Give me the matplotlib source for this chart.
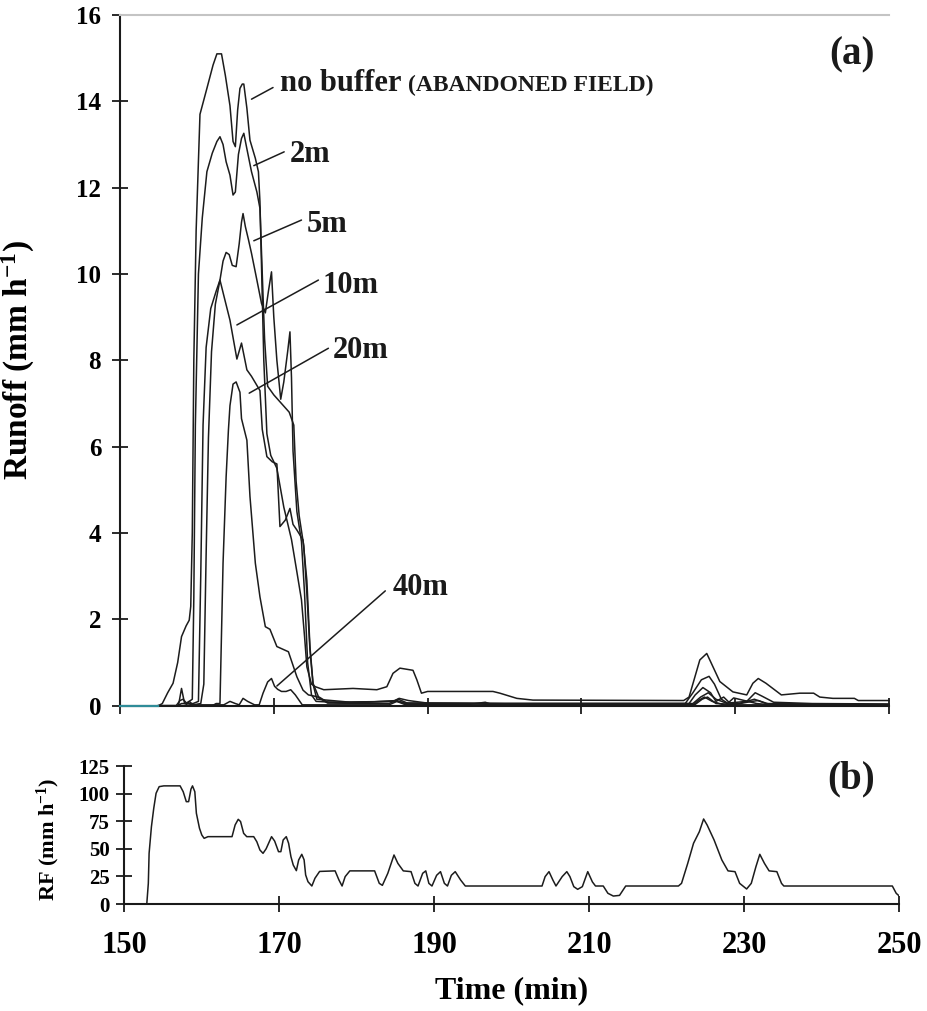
import matplotlib
matplotlib.use("Agg")
import matplotlib.pyplot as plt

plt.rcParams['font.family'] = ['Liberation Serif', 'DejaVu Serif']
plt.rcParams['font.weight'] = 'bold'
plt.rcParams['mathtext.fontset'] = 'custom'
plt.rcParams['mathtext.rm'] = 'Liberation Serif:bold'
plt.rcParams['mathtext.bf'] = 'Liberation Serif:bold'
plt.rcParams['mathtext.it'] = 'Liberation Serif:bold:italic'

# ---------------- data (a) runoff, mm/h ----------------
lead_t = [150, 155]
lead_r = [0, 0]

nb_t = [155, 155.5, 156.2, 156.9, 157.5, 158.0, 158.6, 159.0, 159.2, 159.4, 159.6, 159.9, 160.4, 161.3,
        162.1, 162.6, 163.2, 163.7, 164.3, 164.7, 165.0, 165.3, 165.6, 165.9, 166.1, 166.5, 166.9, 167.6,
        168.0, 168.2, 168.4, 168.7, 169.1, 169.6, 170.4, 171.3, 172.3, 173.0, 173.6, 174.0, 174.3, 174.9,
        175.4, 176.5, 180.3, 183.4, 184.7, 185.5, 186.4, 188.1, 188.6, 189.2, 190.0, 198.5, 199.4, 201.6,
        203.7, 223.3, 224.0, 225.4, 226.3, 226.8, 228.0, 229.7, 231.5, 232.3, 233.0, 234.0, 236.0, 238.4,
        240.2, 241.0, 242.7, 245.5, 246.0, 250]
nb_r = [0, 0.05, 0.3, 0.52, 1.0, 1.6, 1.85, 1.98, 2.3, 4.0, 8.0, 11.0, 13.7, 14.3,
        14.84, 15.1, 15.1, 14.6, 13.9, 13.07, 12.95, 13.8, 14.3, 14.4, 14.4, 13.84, 13.1, 12.68,
        12.37, 11.67, 10.2, 8.0, 6.3, 5.8, 5.5, 4.6, 3.85, 3.1, 2.45, 1.6, 0.9, 0.5,
        0.44, 0.37, 0.40, 0.37, 0.44, 0.75, 0.87, 0.82, 0.6, 0.29, 0.33, 0.33, 0.29, 0.17,
        0.13, 0.12, 0.2, 1.06, 1.21, 1.02, 0.56, 0.32, 0.25, 0.52, 0.63, 0.52, 0.25, 0.29,
        0.29, 0.2, 0.17, 0.17, 0.12, 0.12]

m2_t = [155, 157.5, 158.0, 158.5, 159.0, 159.4, 159.6, 159.8, 160.2, 160.7, 161.3, 162.0, 162.6, 163.0,
        163.4, 163.8, 164.3, 164.7, 165.0, 165.4, 165.8, 166.1, 166.5, 167.1, 167.8, 168.2, 168.5, 168.8,
        169.2, 170.0, 171.0, 172.0, 172.6, 172.9, 173.3, 173.9, 174.3, 174.7, 175.1, 175.6, 180, 185.5,
        186.3, 187.5, 190, 200, 223.5, 224.5, 225.6, 226.6, 227.3, 228.2, 229.0, 231.5, 232.6, 233.5,
        235.0, 240, 250]
m2_r = [0, 0, 0.05, 0.05, 0.1, 0.15, 2.5, 6.5, 10.0, 11.3, 12.37, 12.8, 13.07, 13.18,
        13.0, 12.6, 12.29, 11.83, 11.9, 12.77, 13.14, 13.26, 12.9, 12.37, 11.9, 11.52, 10.0, 8.5,
        7.4, 7.2, 7.0, 6.8, 6.5, 5.2, 4.4, 3.7, 2.6, 1.3, 0.5, 0.15, 0.08, 0.1,
        0.17, 0.12, 0.06, 0.05, 0.05, 0.3, 0.6, 0.68, 0.5, 0.15, 0.06, 0.1, 0.3, 0.22,
        0.08, 0.05, 0.04]

m5_t = [155, 157.6, 158.0, 158.4, 159.5, 160.2, 160.5, 160.8, 161.2, 161.8, 162.5, 163.0, 163.4, 163.8,
        164.2, 164.6, 165.1, 165.5, 165.8, 166.0, 166.3, 166.7, 167.1, 167.8, 168.4, 168.9, 169.3, 169.7,
        170.0, 170.4, 170.9, 171.3, 171.8, 172.1, 172.3, 172.5, 173.0, 173.6, 174.0, 174.4, 174.9, 175.5,
        180, 186, 187, 200, 224.0, 224.8, 225.8, 226.8, 227.5, 228.5, 229.3, 230.5, 232.5, 234, 240, 250]
m5_r = [0, 0, 0.4, 0.05, 0.05, 0.1, 3.0, 6.5, 8.3, 9.2, 9.6, 9.86, 10.3, 10.5,
        10.45, 10.2, 10.17, 10.7, 11.2, 11.4, 11.1, 10.8, 10.48, 9.86, 9.32, 9.1, 9.6, 10.05,
        9.0, 8.0, 7.1, 7.5, 8.2, 8.66, 7.6, 5.9, 4.5, 3.8, 2.6, 1.0, 0.25, 0.1,
        0.06, 0.12, 0.06, 0.05, 0.05, 0.25, 0.42, 0.3, 0.1, 0.2, 0.06, 0.05, 0.15, 0.05, 0.04, 0.03]

m10_t = [155, 158.5, 159.0, 159.5, 160.5, 160.9, 161.2, 161.5, 161.9, 162.4, 163.0, 163.5, 164.3, 165.2,
         165.8, 166.5, 167.1, 167.7, 168.2, 168.5, 169.1, 169.8, 170.4, 170.8, 171.5, 172.1, 172.5, 173.0,
         173.8, 174.3, 174.7, 175.1, 175.8, 177, 186, 187, 200, 224.5, 225.5, 226.5, 227.5, 229.0, 229.8,
         232.8, 234, 250]
m10_r = [0, 0, 0.1, 0.02, 0.05, 0.5, 3.5, 6.2, 8.2, 9.3, 9.86, 9.5, 8.93, 8.03,
         8.4, 7.78, 7.63, 7.45, 7.3, 6.4, 5.77, 5.65, 5.6, 4.15, 4.3, 4.57, 4.2, 4.07,
         3.84, 2.9, 1.37, 0.52, 0.21, 0.08, 0.1, 0.06, 0.05, 0.05, 0.2, 0.3, 0.15, 0.05, 0.18,
         0.05, 0.03, 0.02]

m20_t = [155, 162.0, 162.5, 163.0, 163.4, 163.8, 164.1, 164.3, 164.7, 165.1, 165.6, 165.8, 166.5, 166.9,
         167.6, 168.2, 168.9, 169.5, 170.4, 171.9, 173.0, 173.8, 174.5, 175.6, 177, 185, 186.2, 187.5,
         200, 224.8, 225.7, 226.4, 227.5, 230, 232.2, 233, 234.5, 250]
m20_r = [0, 0, 0.05, 0.05, 3.3, 5.3, 6.39, 6.95, 7.45, 7.5, 7.26, 6.65, 6.15, 4.85,
         3.3, 2.52, 1.83, 1.77, 1.37, 1.25, 0.67, 0.36, 0.25, 0.21, 0.06, 0.05, 0.15, 0.05,
         0.03, 0.03, 0.15, 0.2, 0.05, 0.03, 0.1, 0.12, 0.03, 0.02]

m40_t = [155, 157.3, 157.8, 158.2, 158.7, 159.5, 162, 163.5, 164.3, 165.0, 165.5, 166.0, 166.6, 167.5,
         168.1, 168.6, 169.2, 169.7, 170.1, 170.5, 171.0, 171.6, 172.2, 172.8, 173.7, 175, 180, 185,
         186, 187, 195, 197.5, 198.5, 210, 224.5, 225.2, 226, 227, 228.5, 233, 250]
m40_r = [0, 0, 0.12, 0.15, 0.05, 0.02, 0.02, 0.02, 0.1, 0.05, 0.02, 0.17, 0.1, 0.02,
         0.02, 0.29, 0.55, 0.63, 0.45, 0.38, 0.33, 0.33, 0.37, 0.25, 0.02, 0.02, 0.02, 0.02,
         0.1, 0.03, 0.02, 0.08, 0.02, 0.01, 0.01, 0.12, 0.2, 0.1, 0.02, 0.02, 0.01]

# ---------------- data (b) rainfall, mm/h ----------------
rf_t = [152.9, 153.1, 153.2, 153.5, 153.8, 154.1, 154.5, 155.1, 157.2, 157.6, 158.0, 158.3, 158.6, 158.8,
        159.1, 159.3, 159.7, 160.0, 160.3, 160.8, 163.9, 164.3, 164.7, 165.0, 165.4, 165.8, 166.7, 167.1,
        167.5, 167.9, 168.3, 169.0, 169.4, 169.9, 170.2, 170.5, 170.9, 171.2, 171.5, 171.8, 172.2, 172.5,
        172.9, 173.2, 173.4, 173.7, 174.2, 174.6, 175.2, 177.2, 177.7, 178.1, 178.5, 179.1, 182.3, 182.9,
        183.3, 184.0, 184.8, 185.3, 186.0, 187.0, 187.5, 187.9, 188.5, 188.9, 189.3, 189.7, 190.3, 190.8,
        191.3, 191.7, 192.2, 192.7, 193.4, 194.0, 203.9, 204.3, 204.8, 205.3, 205.7, 206.5, 207.1, 207.5,
        208.0, 208.5, 209.1, 209.8, 210.4, 210.8, 211.8, 212.4, 213.1, 213.9, 214.7, 221.5, 221.9, 222.7,
        223.45, 224.2, 224.75, 225.2, 226.1, 227.1, 227.9, 228.8, 229.4, 230.3, 230.9, 231.5, 232.0, 232.6,
        233.2, 234.2, 234.8, 235.1, 249.1, 249.6, 250.0]
rf_v = [0, 18.7, 45.9, 70, 86.7, 100.3, 106.3, 107, 107, 101.7, 92.7, 92.7, 104, 107,
        101.7, 82.2, 68.6, 62.5, 59.5, 61, 61, 71.6, 76.7, 74.7, 64, 61, 61, 56.4,
        48.9, 45.9, 50, 61, 57, 47.4, 47.4, 58, 61, 55, 42.9, 35.3, 30.2, 39.9,
        45, 40, 26.3, 20.2, 16.3, 23.3, 29.5, 30, 21.7, 16.3, 24.8, 30, 30, 18.7,
        16.9, 27.8, 44.4, 36.8, 30, 29.3, 18.7, 16.3, 27.8, 30, 18.7, 16.3, 26, 29.3,
        18.7, 16.3, 26, 29.3, 21.7, 16.3, 16.3, 24.8, 29.3, 21.7, 16.3, 24.8, 29.3, 24.8,
        15.7, 13.3, 15.7, 29.3, 20.0, 16.3, 16.3, 9.7, 7.2, 7.8, 16.3, 16.3, 18.7, 36.8,
        55, 65.5, 77, 71.6, 58, 39.9, 30, 29.3, 18.7, 13.6, 18.7, 33.8, 45, 36.8,
        30, 29.3, 18.7, 16.3, 16.3, 9.7, 7.2]

runoff_series = [(nb_t, nb_r), (m2_t, m2_r), (m5_t, m5_r), (m10_t, m10_r), (m20_t, m20_r), (m40_t, m40_r)]

# labels: (text, text x, text baseline y, leader start, leader end)
curve_labels = [
    ("no buffer", 170.87, 14.25, (167.1, 14.05), (169.9, 14.32)),
    ("2m", 172.1, 12.6, (167.4, 12.51), (171.35, 12.83)),
    ("5m", 174.3, 10.98, (167.4, 10.77), (173.6, 11.25)),
    ("10m", 176.35, 9.57, (165.2, 8.82), (175.8, 9.86)),
    ("20m", 177.65, 8.05, (166.8, 7.24), (177.1, 8.28)),
    ("40m", 185.45, 2.56, (170.4, 0.456), (184.5, 2.66)),
]

W, H = 927, 1011
fig = plt.figure(figsize=(W / 100, H / 100), dpi=100)

def box(l, r, t, b):
    return [l / W, 1 - b / H, (r - l) / W, (b - t) / H]

ax = fig.add_axes(box(120, 889, 15, 705.7))
ax2 = fig.add_axes(box(124.3, 899.3, 766, 904))

line_c = '#1c1c1c'
for tt, rr in runoff_series:
    ax.plot(tt, rr, color=line_c, lw=1.1, clip_on=False)
ax.plot(lead_t, lead_r, color='#2f8c98', lw=1.6, zorder=4, clip_on=False)

ax.set_xlim(150, 250)
ax.set_ylim(0, 16)
ax.set_yticks(range(0, 17, 2))
ax.set_xticks(range(150, 251, 20))
ax.tick_params(axis='x', labelbottom=False)
for a in (ax, ax2):
    a.tick_params(direction='inout', length=11, width=1.3, color='#1a1a1a')
    for s in ('left', 'bottom'):
        a.spines[s].set_linewidth(1.5)
        a.spines[s].set_color('#1a1a1a')
    a.spines['right'].set_visible(False)
ax.spines['top'].set_color('#c4c4c4')
ax.spines['top'].set_linewidth(1.5)
ax2.spines['top'].set_visible(False)

ax.tick_params(axis='y', labelsize=18, pad=8)
for lab in ax.get_yticklabels():
    lab.set_fontweight('bold')
ax.set_ylabel(r'Runoff (mm h$^{-1}$)', fontsize=24, fontweight='bold')
ax.yaxis.set_label_coords(-0.108, 0.5)

for text, tx, ty, p0, p1 in curve_labels:
    ax.annotate('', xy=p0, xytext=p1,
                arrowprops=dict(arrowstyle='-', color=line_c, lw=1.1, shrinkA=0, shrinkB=0))
    ax.text(tx, ty, text, fontsize=22, fontweight='bold', ha='left', va='baseline', color='#1a1a1a')
ax.text(187.45, 14.25, '(ABANDONED FIELD)', fontsize=17, fontweight='bold', ha='left',
        va='baseline', color='#1a1a1a')
ax.text(245.2, 15.07, '(a)', fontsize=28, fontweight='bold', ha='center', va='center', color='#1a1a1a')

# ---- panel (b)
ax2.plot(rf_t, rf_v, color=line_c, lw=1.1)
ax2.set_xlim(150, 250)
ax2.set_ylim(0, 125)
ax2.set_yticks(range(0, 126, 25))
ax2.set_xticks(range(150, 251, 20))
ax2.tick_params(axis='y', labelsize=15, pad=5)
ax2.tick_params(axis='x', labelsize=22, pad=14)
for lab in ax2.get_yticklabels() + ax2.get_xticklabels():
    lab.set_fontweight('bold')
ax2.set_ylabel(r'RF (mm h$^{-1}$)', fontsize=16, fontweight='bold')
ax2.yaxis.set_label_coords(-0.08, 0.47)
ax2.set_xlabel('Time (min)', fontsize=23, fontweight='bold')
ax2.xaxis.set_label_coords(0.5, -0.52)
ax2.text(243.8, 113.2, '(b)', fontsize=28, fontweight='bold', ha='center', va='center', color='#1a1a1a')

fig.savefig('out.png', dpi=100)
